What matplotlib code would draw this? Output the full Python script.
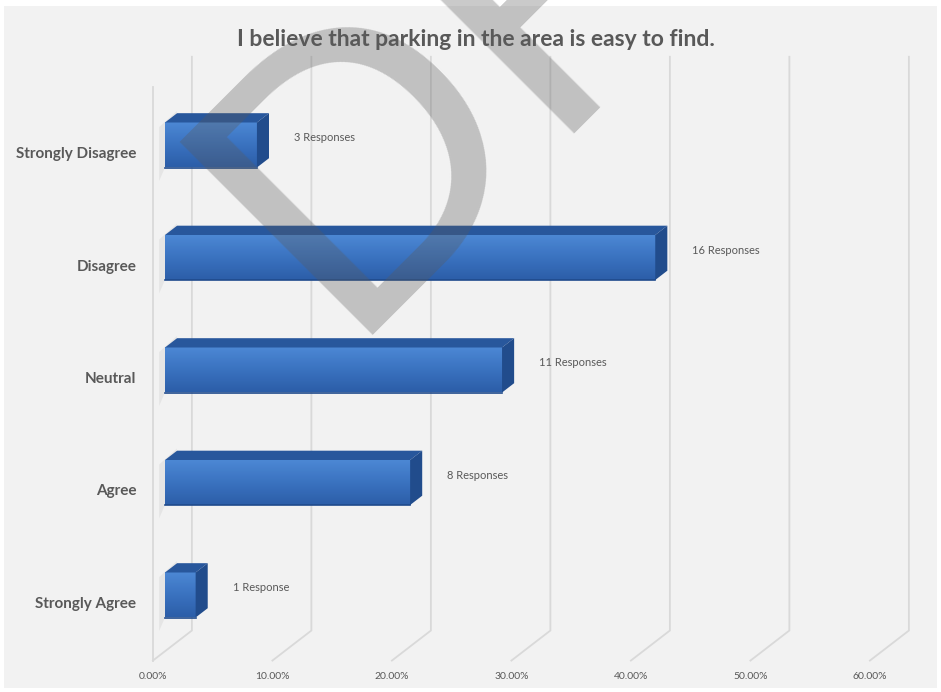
import numpy as np
import matplotlib.pyplot as plt
from matplotlib.patches import Polygon, Rectangle
from matplotlib.colors import LinearSegmentedColormap

# survey answers, top row first
categories = ["Strongly Disagree", "Disagree", "Neutral", "Agree", "Strongly Agree"]
responses = [3, 16, 11, 8, 1]
tick_values = [0, 10, 20, 30, 40, 50, 60]
tick_labels = ["0.00%", "10.00%", "20.00%", "30.00%", "40.00%", "50.00%", "60.00%"]
title = "I believe that parking in the area is easy to find."

total = sum(responses)
pct = [r / total * 100 for r in responses]

# 3d look: full depth of the box in data units (percent, rows)
DX, DY = 3.26, -0.267
bar_back = 0.31
wall = 0.69
floor_front = -0.31
bar_h = 0.4

grey = "#595959"
grid = "#d9d9d9"

fig = plt.figure(figsize=(9.41, 6.92), dpi=100)
fig.patch.set_facecolor("white")
fig.patches.append(Rectangle((4 / 941, 4 / 692), 933 / 941, 682 / 692, transform=fig.transFigure,
                             facecolor="#f2f2f2", edgecolor="none", zorder=-5))

ax = fig.add_axes([0, 0, 1, 1])
ax.set_axis_off()
px = 11.95      # pixels per percent
row = 112.5     # pixels per category


def at(x, y, d):
    return (x + d * DX, y + d * DY)


top_row, bot_row = -0.6, 4.5

# back wall gridlines and their floor lines
for v in tick_values:
    x0, y0 = at(v, top_row, wall)
    x1, y1 = at(v, bot_row, wall)
    x2, y2 = at(v, bot_row, floor_front)
    ax.plot([x0, x1, x2], [y0, y1, y2], color=grid, lw=1.3, zorder=1, solid_joinstyle="miter")

# left wall front edge
x0, y0 = at(0, top_row, floor_front)
x1, y1 = at(0, bot_row, floor_front)
ax.plot([x0, x1], [y0, y1], color=grid, lw=1.3, zorder=1)

# bars: front face with gradient, top and side faces darker
grad = np.linspace(0, 1, 64).reshape(-1, 1)
front_cmap = LinearSegmentedColormap.from_list("front", ["#4c88d4", "#3a72c0", "#2c5ea8"])
for i, (v, n) in enumerate(zip(pct, responses)):
    top = i - bar_h / 2
    bot = i + bar_h / 2
    # soft shade where the bar meets the left wall
    shade = [at(0, top - 0.02, bar_back), at(0, top, -0.15), at(0, bot + 0.08, -0.15), at(0, bot, 0)]
    ax.add_patch(Polygon(shade, closed=True, facecolor="#a0a0a0", edgecolor="none",
                         alpha=0.15, zorder=2))
    ax.imshow(grad, cmap=front_cmap, extent=(0, v, bot, top), aspect="auto",
              interpolation="bicubic", zorder=3)
    ax.plot([0, v], [bot, bot], color="#1f4a8c", lw=1.2, zorder=4)
    top_face = [at(0, top, 0), at(v, top, 0), at(v, top, bar_back), at(0, top, bar_back)]
    ax.add_patch(Polygon(top_face, closed=True, facecolor="#28579c", edgecolor="none", zorder=3))
    side_face = [at(v, top, 0), at(v, top, bar_back), at(v, bot, bar_back), at(v, bot, 0)]
    ax.add_patch(Polygon(side_face, closed=True, facecolor="#214c8c", edgecolor="none", zorder=3))
    word = "Response" if n == 1 else "Responses"
    lx, ly = at(v, i, bar_back)
    ax.text(lx + 2.1, ly + 0.02, f"{n} {word}", ha="left", va="center", fontsize=8,
            color=grey, family="Lato", zorder=5)
    ax.text(-2.4, i + 0.08, categories[i], ha="right", va="center", fontsize=11,
            color=grey, family="Lato", fontweight="bold", zorder=5)

ax.set_xlim(-165 / px, (941 - 165) / px)
ax.set_ylim((692 - 145) / row, -145 / row)

# percent ticks along the floor front
for v, lab in zip(tick_values, tick_labels):
    x, y = at(v, bot_row, floor_front)
    ax.text(x, y + 0.14, lab, ha="center", va="center", fontsize=7.5, color=grey,
            family="Lato", zorder=5)

fig.text(476 / 941, 1 - 40 / 692, title, ha="center", va="center", fontsize=16.5,
         fontweight="bold", color=grey, family="Lato")

# watermark
fig.text(340 / 941, 1 - 335 / 692, "DRAFT", rotation=45, rotation_mode="anchor",
         ha="left", va="baseline", fontsize=285, family="Liberation Sans",
         color="#5a5a5a", alpha=0.32, zorder=10)

fig.savefig("out.png", dpi=100, facecolor=fig.get_facecolor())
